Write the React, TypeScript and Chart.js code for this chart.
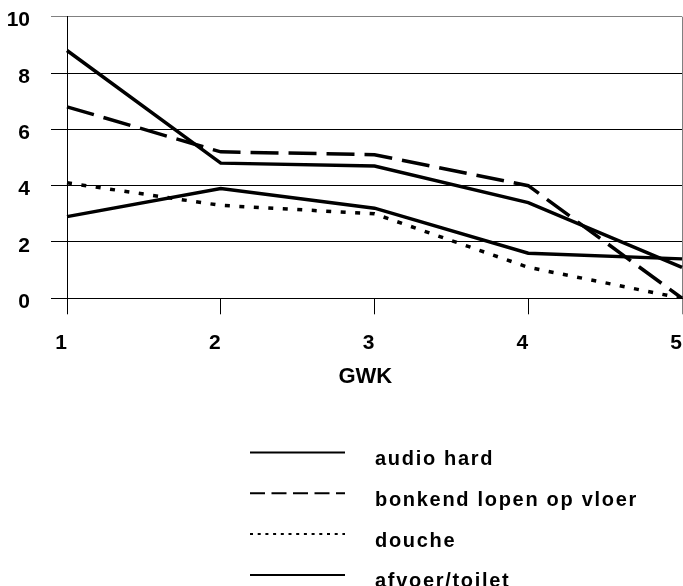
import React, { useEffect, useRef } from "react";
import { Chart, registerables } from "chart.js";

Chart.register(...registerables);

const categories = ["1", "2", "3", "4", "5"];
const seriesLabels = ["audio hard", "bonkend lopen op vloer", "douche", "afvoer/toilet"];
const audioHard = [8.8, 4.8, 4.7, 3.4, 1.1];
const bonkendLopen = [6.8, 5.2, 5.1, 4.0, 0];
const douche = [4.1, 3.3, 3.0, 1.1, 0];
const afvoerToilet = [2.9, 3.9, 3.2, 1.6, 1.4];
const yTicks = [0, 2, 4, 6, 8, 10];
const xTitle = "GWK";

const FONT = '"Liberation Sans", Arial, sans-serif';
const plotDash = [[], [28, 10], [5, 9.5], []];
const legendDash = [[], [15, 6.5], [3, 4.7], []];

const legendPlugin = {
  id: "listLegend",
  afterDraw(chart: any) {
    const ctx = chart.ctx as CanvasRenderingContext2D;
    ctx.save();
    chart.data.datasets.forEach((ds: any, i: number) => {
      const y = 452.5 + i * 40.8;
      ctx.beginPath();
      ctx.setLineDash(legendDash[i]);
      ctx.lineWidth = 2;
      ctx.strokeStyle = "#000";
      ctx.moveTo(250, y);
      ctx.lineTo(345, y);
      ctx.stroke();
      ctx.setLineDash([]);
      ctx.fillStyle = "#000";
      ctx.font = `bold 20px ${FONT}`;
      (ctx as any).letterSpacing = "1.7px";
      ctx.textAlign = "left";
      ctx.textBaseline = "alphabetic";
      ctx.fillText(ds.label, 375, y + 12.5);
    });
    ctx.restore();
  },
};

const zeroPad = (s: any) => {
  s.paddingTop = 0;
  s.paddingBottom = 0;
  s.paddingLeft = 0;
  s.paddingRight = 0;
};

export default function App() {
  const ref = useRef<HTMLCanvasElement>(null);
  useEffect(() => {
    if (!ref.current) return;
    const values = [audioHard, bonkendLopen, douche, afvoerToilet];
    const chart = new Chart(ref.current, {
      type: "line",
      data: {
        labels: categories,
        datasets: values.map((v, i) => ({
          label: seriesLabels[i],
          data: v,
          borderColor: "#000",
          backgroundColor: "#000",
          borderWidth: 3.5,
          borderDash: plotDash[i],
          pointRadius: 0,
          tension: 0,
          fill: false,
        })),
      },
      options: {
        responsive: false,
        animation: false,
        layout: { padding: { top: 16.7, right: 1, bottom: 586 - 298.3 - 100, left: 0 } },
        plugins: { legend: { display: false }, tooltip: { enabled: false } },
        scales: {
          x: {
            type: "category",
            offset: false,
            afterFit: (s: any) => {
              s.height = 100;
              zeroPad(s);
            },
            grid: {
              drawOnChartArea: true,
              drawTicks: true,
              tickLength: 16,
              color: (c: any) => (c.index === 4 ? "#808080" : c.index === 0 ? "#000" : "rgba(0,0,0,0)"),
              tickColor: (c: any) => (c.index === 4 ? "#808080" : "#000"),
            },
            border: { display: true, color: "#000", width: 1 },
            ticks: {
              align: "end",
              padding: 16,
              color: "#000",
              maxRotation: 0,
              autoSkip: false,
              font: { family: FONT, size: 21, weight: "bold" },
            },
            title: {
              display: true,
              text: xTitle + "   ",
              color: "#000",
              font: { family: FONT, size: 22, weight: "bold" },
              padding: { top: 0, bottom: 8.6 },
            },
          },
          y: {
            min: 0,
            max: 10,
            afterFit: (s: any) => {
              s.width = 67;
              zeroPad(s);
            },
            afterBuildTicks: (s: any) => {
              s.ticks = yTicks.map((v) => ({ value: v }));
            },
            grid: {
              drawTicks: true,
              tickLength: 16,
              color: (c: any) => (c.tick && c.tick.value === 10 ? "#808080" : "#000"),
              tickColor: (c: any) => (c.tick && c.tick.value === 10 ? "#808080" : "#000"),
            },
            border: { display: true, color: "#000", width: 1 },
            ticks: {
              padding: 21,
              labelOffset: 4,
              color: "#000",
              font: { family: FONT, size: 21, weight: "bold" },
            },
          },
        },
      },
      plugins: [legendPlugin],
    } as any);
    return () => chart.destroy();
  }, []);
  return (
    <div style={{ position: "fixed", left: 0, top: 0, width: 683, height: 586 }}>
      <canvas ref={ref} width={683} height={586} style={{ display: "block" }} />
    </div>
  );
}
